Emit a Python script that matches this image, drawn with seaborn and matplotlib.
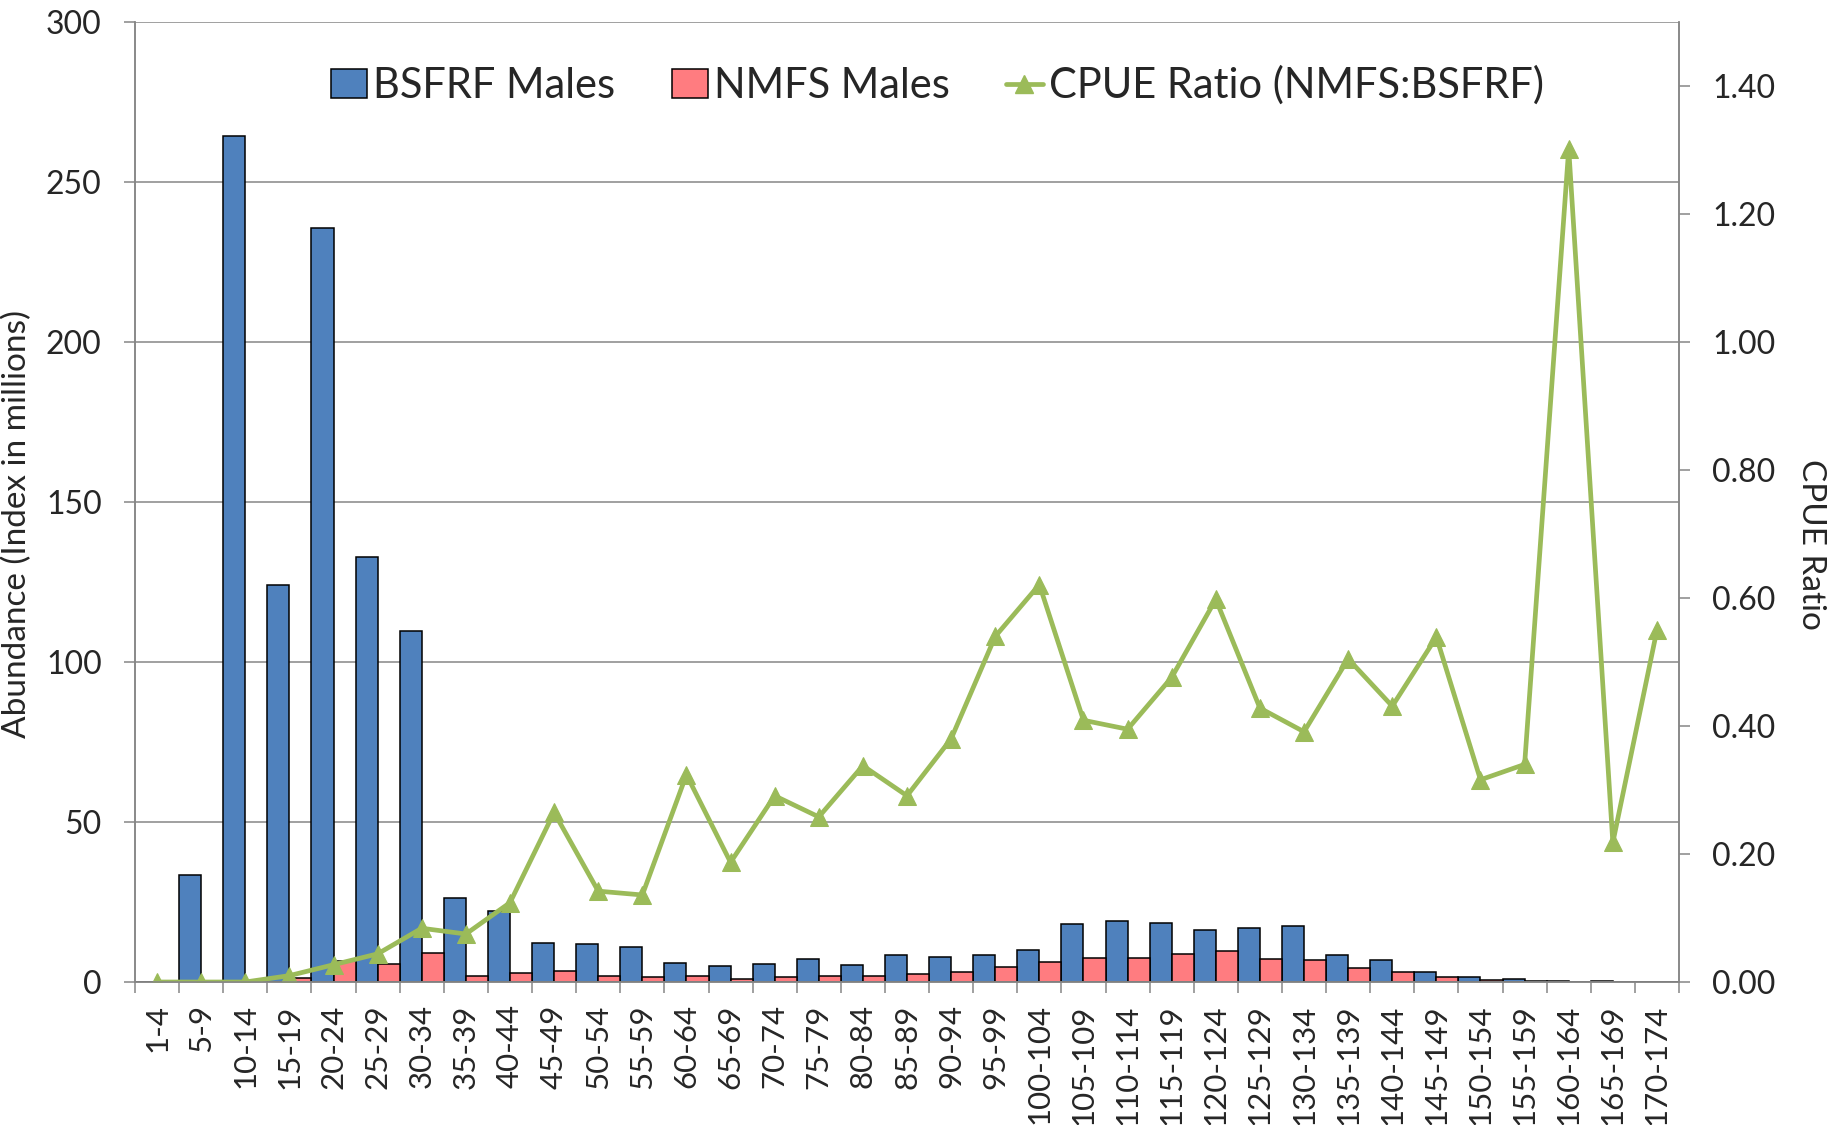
import matplotlib
matplotlib.use("Agg")
import matplotlib.pyplot as plt
from matplotlib.patches import Patch
from matplotlib.lines import Line2D
from matplotlib.ticker import FormatStrFormatter, MultipleLocator
import numpy as np
import pandas as pd
import seaborn as sns

# size classes (carapace length, mm)
size_classes = ['1-4', '5-9', '10-14', '15-19', '20-24', '25-29', '30-34', '35-39',
                '40-44', '45-49', '50-54', '55-59', '60-64', '65-69', '70-74', '75-79',
                '80-84', '85-89', '90-94', '95-99', '100-104', '105-109', '110-114',
                '115-119', '120-124', '125-129', '130-134', '135-139', '140-144',
                '145-149', '150-154', '155-159', '160-164', '165-169', '170-174']

bsfrf_males = [0, 33.5, 264.3, 124.1, 235.5, 132.9, 109.7, 26.3, 22.1, 12.2, 11.8, 10.8,
               6.0, 5.0, 5.7, 7.3, 5.4, 8.3, 7.9, 8.5, 9.9, 18.1, 19.0, 18.3, 16.1, 17.0,
               17.4, 8.5, 7.0, 3.0, 1.6, 0.8, 0.3, 0.2, 0.1]

nmfs_males = [0, 0, 0, 1.2, 6.5, 5.7, 9.1, 2.0, 2.8, 3.3, 1.8, 1.5, 1.9, 1.0, 1.7, 1.9,
              1.9, 2.5, 3.0, 4.7, 6.2, 7.5, 7.6, 8.8, 9.7, 7.3, 6.8, 4.3, 3.0, 1.6, 0.5,
              0.3, 0.1, 0.05, 0.02]

cpue_ratio = [0.0, 0.0, 0.0, 0.01, 0.027, 0.044, 0.084, 0.075, 0.124, 0.265, 0.142, 0.136,
              0.324, 0.187, 0.291, 0.258, 0.338, 0.291, 0.380, 0.540, 0.621, 0.409, 0.395,
              0.476, 0.598, 0.428, 0.391, 0.505, 0.431, 0.539, 0.316, 0.340, 1.302, 0.218,
              0.550]

BLUE = '#4F81BD'
PINK = '#FF7C80'
GREEN = '#9BBB59'
GRAY = '#868686'

sns.set_style('white')
plt.rcParams['font.family'] = ['Lato', 'DejaVu Sans']

df = pd.DataFrame({
    'size': size_classes * 2,
    'abundance': bsfrf_males + nmfs_males,
    'survey': ['BSFRF Males'] * len(size_classes) + ['NMFS Males'] * len(size_classes),
})

fig = plt.figure(figsize=(18.27, 11.25), dpi=100)
ax = fig.add_axes([0.0739, 0.1271, 0.8451, 0.8533])

sns.barplot(data=df, x='size', y='abundance', hue='survey', order=size_classes,
            palette=[BLUE, PINK], saturation=1, width=1.0, edgecolor='black',
            linewidth=1.1, errorbar=None, legend=False, ax=ax)

ax2 = ax.twinx()
sns.lineplot(x=np.arange(len(size_classes)), y=cpue_ratio, sort=False, color=GREEN,
             linewidth=3.4, marker='^', markersize=12.5, markeredgecolor=GREEN,
             markerfacecolor=GREEN, ax=ax2)

# left axis
ax.set_ylim(0, 300)
ax.yaxis.set_major_locator(MultipleLocator(50))
ax.set_axisbelow(True)
ax.grid(axis='y', color=GRAY, linewidth=1.1)
ax.grid(axis='x', visible=False)
ax.set_ylabel('')
ax.set_xlabel('')
ax.tick_params(axis='y', direction='out', length=8, width=1.1, color=GRAY,
               labelsize=23, pad=16, left=True)

# right axis
ax2.set_ylim(0, 1.5)
ax2.set_yticks(np.arange(0, 1.41, 0.2))
ax2.yaxis.set_major_formatter(FormatStrFormatter('%.2f'))
ax2.set_ylabel('')
ax2.tick_params(axis='y', direction='out', length=8, width=1.1, color=GRAY,
                labelsize=23, pad=16, right=True)
ax2.grid(False)

# axis titles
fig.text(0.0095, 0.534, 'Abundance (Index in millions)', rotation=90,
         ha='center', va='center', fontsize=24)
fig.text(0.9915, 0.516, 'CPUE Ratio', rotation=270,
         ha='center', va='center', fontsize=24)

# category axis: ticks between classes, labels at centres
ax.set_xlim(-0.5, len(size_classes) - 0.5)
ax.set_xticks(np.arange(-0.5, len(size_classes), 1.0))
ax.set_xticklabels([])
ax.set_xticks(np.arange(len(size_classes)), labels=size_classes, minor=True)
ax.tick_params(axis='x', which='major', direction='out', length=8, width=1.1,
               color=GRAY, bottom=True)
ax.tick_params(axis='x', which='minor', length=0, labelsize=22.5, rotation=90, pad=16)

for a in (ax, ax2):
    for side in ('left', 'right', 'bottom'):
        a.spines[side].set_visible(True)
        a.spines[side].set_color(GRAY)
        a.spines[side].set_linewidth(1.1)
    a.spines['top'].set_visible(False)

handles = [
    Patch(facecolor=BLUE, edgecolor='black', linewidth=1.1, label='BSFRF Males'),
    Patch(facecolor=PINK, edgecolor='black', linewidth=1.1, label='NMFS Males'),
    Line2D([0], [0], color=GREEN, linewidth=3.4, marker='^', markersize=12.5,
           label='CPUE Ratio (NMFS:BSFRF)'),
]
fig.legend(handles=handles, loc='center', bbox_to_anchor=(0.513, 0.924), ncol=3,
           frameon=False, fontsize=30, handlelength=0.87, handleheight=0.7,
           handletextpad=0.15, columnspacing=1.35)

fig.savefig('out.png', dpi=100)
plt.close(fig)
